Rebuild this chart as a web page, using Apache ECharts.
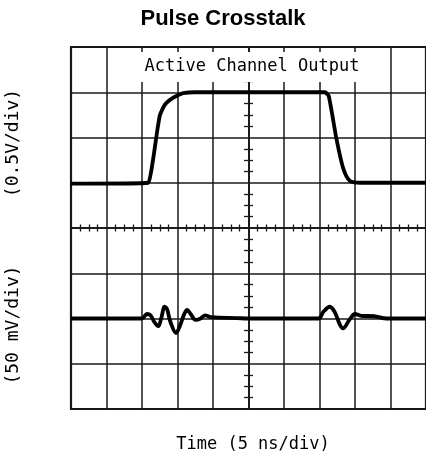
<!DOCTYPE html>
<html>
<head>
<meta charset="utf-8">
<script src="https://cdn.jsdelivr.net/npm/echarts@6/dist/echarts.min.js"></script>
<style>
    html, body { margin: 0; padding: 0; background: #fff; }
    #chart { width: 426px; height: 461px; }
</style>
</head>
<body>
<div id="chart"></div>
<script>
// 主动通道输出 (时间 ns, 电压 V)
var activeTime = [0, 10.9, 11.3, 11.7, 12.1, 12.5, 12.8, 13.2, 13.7, 14.3, 15.0, 15.8, 17.4,
    35.8, 36.3, 36.8, 37.3, 37.8, 38.3, 38.8, 39.3, 39.9, 40.7, 50];
var activeVolt = [-0.01, 0, 0.13, 0.33, 0.55, 0.74, 0.8, 0.86, 0.9, 0.935, 0.965, 0.99, 1.0,
    1.0, 0.96, 0.75, 0.52, 0.33, 0.17, 0.07, 0.02, 0.005, 0, 0];
// 串扰通道 (时间 ns, mV)
var quietTime = [0, 10.0, 10.7, 11.2, 11.75, 12.3, 12.7, 13.2, 13.55, 13.95, 14.8, 15.35, 15.9, 16.35, 16.85,
    17.55, 18.25, 18.9, 19.75, 23.35, 25, 34.85, 35.55, 36.45, 37.15, 37.85, 38.3, 39.25, 40.0, 40.85, 42.7, 44.5, 50];
var quietMv = [0, 0, 5, 3.5, -4, -8.5, 0, 13, 10, -2.5, -16, -8, 4, 9.5, 5,
    -1.5, 0, 3.5, 1.5, 0.5, 0, 0, 7.5, 13, 7, -6.5, -11, -1, 5, 3, 2.5, 0, 0];
// 文字
var titleText = 'Pulse Crosstalk';
var traceLabel = 'Active Channel Output';
var upperUnit = '(0.5V/div)';
var lowerUnit = '(50 mV/div)';
var timeUnit = 'Time (5 ns/div)';

// 换算成格数 (中心为 0)
function toPoints(ts, vs, perDiv, offset) {
    return ts.map(function (t, i) {
        return [t / 5 - 5, vs[i] / perDiv + offset];
    });
}

var lineColor = '#1a1a1a';

function centerAxis(pos, isX) {
    return {
        type: 'value',
        position: pos,
        min: isX ? -5 : -4,
        max: isX ? 5 : 4,
        interval: 1,
        axisLine: {show: true, onZero: true, onZeroAxisIndex: 0, lineStyle: {color: lineColor, width: 1.5}},
        axisTick: {show: false},
        minorTick: {show: true, splitNumber: 4, length: isX ? 3.5 : 4.5, lineStyle: {color: lineColor, width: 1.3}},
        axisLabel: {show: false},
        splitLine: {show: pos === 'bottom' || pos === 'left', lineStyle: {color: lineColor, width: 1.5}},
        minorSplitLine: {show: false}
    };
}

function label(text, x, y, size, rotate) {
    return {
        type: 'text',
        x: x,
        y: y,
        rotation: rotate ? Math.PI / 2 : 0,
        style: {
            text: text,
            font: size + 'px "DejaVu Sans Mono"',
            fill: '#000',
            align: 'center',
            verticalAlign: 'middle'
        },
        z: 51
    };
}

var chart = echarts.init(document.getElementById('chart'));
chart.setOption({
    animation: false,
    grid: {
        left: 71,
        top: 47,
        width: 362,
        height: 362,
        show: true,
        borderColor: '#111',
        borderWidth: 2.2
    },
    xAxis: [centerAxis('bottom', true), centerAxis('top', true)],
    yAxis: [centerAxis('left', false), centerAxis('right', false)],
    series: [
        {
            type: 'line',
            data: toPoints(activeTime, activeVolt, 0.5, 1),
            showSymbol: false,
            smooth: 0.1,
            lineStyle: {color: '#000', width: 3.8},
            z: 5
        },
        {
            type: 'line',
            data: toPoints(quietTime, quietMv, 50, -2),
            showSymbol: false,
            smooth: 0.35,
            lineStyle: {color: '#000', width: 3.8},
            z: 5
        }
    ],
    graphic: [
        {
            type: 'text',
            x: 223,
            y: 19,
            style: {
                text: titleText,
                font: 'bold 22px "Liberation Sans", Arial, sans-serif',
                fill: '#000',
                align: 'center',
                verticalAlign: 'middle'
            }
        },
        {
            type: 'rect',
            shape: {x: 137, y: 52, width: 230, height: 30},
            style: {fill: '#fff'},
            z: 50
        },
        label(traceLabel, 252, 67, 17, false),
        label(upperUnit, 13, 143, 18, true),
        label(lowerUnit, 13, 325, 18, true),
        label(timeUnit, 253, 445, 17, false)
    ]
});
</script>
</body>
</html>
